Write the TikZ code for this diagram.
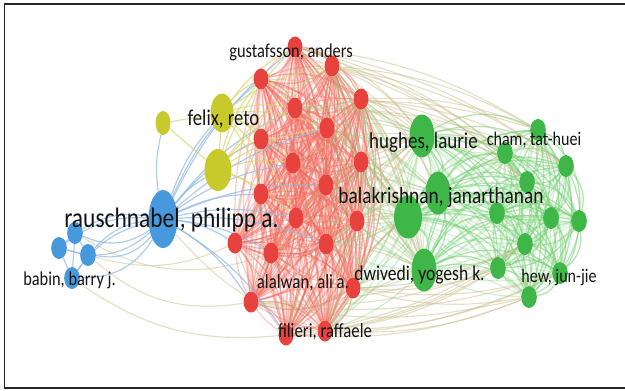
\documentclass[tikz,border=0pt]{standalone}
\usepackage{fontspec}
\newfontfamily\vosfont{Carlito}
\usepackage{xcolor}
\usepackage{tikz}
\usetikzlibrary{shapes,arrows}
\usetikzlibrary{positioning}
\usetikzlibrary{backgrounds}
\definecolor{vosred}{RGB}{232,66,62}
\definecolor{vosgreen}{RGB}{62,182,72}
\definecolor{vosblue}{RGB}{72,152,222}
\definecolor{vosyellow}{RGB}{200,202,44}
\definecolor{linkred}{RGB}{242,108,96}
\definecolor{linkgreen}{RGB}{120,208,120}
\definecolor{linkblue}{RGB}{146,186,230}
\definecolor{linkyellow}{RGB}{212,212,110}
\definecolor{linktan}{RGB}{196,186,132}
\tikzstyle{item} = [ellipse, inner sep=0pt, draw=none]
\tikzstyle{rednode} = [item, fill=vosred, minimum width=0.45cm, minimum height=0.63cm]
\tikzstyle{greennode} = [item, fill=vosgreen, minimum width=0.47cm, minimum height=0.66cm]
\tikzstyle{greenbig} = [item, fill=vosgreen, minimum width=0.75cm, minimum height=1.29cm]
\tikzstyle{bluenode} = [item, fill=vosblue, minimum width=0.47cm, minimum height=0.66cm]
\tikzstyle{bluebig} = [item, fill=vosblue, minimum width=0.87cm, minimum height=1.74cm]
\tikzstyle{yellownode} = [item, fill=vosyellow]
\tikzstyle{redlink} = [draw=linkred, line width=1.1pt, opacity=0.5]
\tikzstyle{greenlink} = [draw=linkgreen, line width=1.1pt, opacity=0.55]
\tikzstyle{bluelink} = [draw=linkblue, line width=1pt, opacity=0.75]
\tikzstyle{yellowlink} = [draw=linkyellow, line width=1pt, opacity=0.7]
\tikzstyle{tanlink} = [draw=linktan, line width=1pt, opacity=0.45]

\begin{document}
\begin{tikzpicture}[x=0.03cm, y=-0.03cm,
  lbl/.style={anchor=base, inner sep=0pt, text=black!92, yscale=1.2}]
  \useasboundingbox (0,0) rectangle (625,390);
  \draw [line width=1.6pt, black!85] (625,4) -- (4.5,4) -- (4.5,388) -- (625,388);
  %% red cluster
  \node [rednode] (r1) at (295,47) {};
  \node [rednode] (r2) at (332,66) {};
  \node [rednode] (r3) at (261,79) {};
  \node [rednode] (r4) at (361,99) {};
  \node [rednode] (r5) at (295,108) {};
  \node [rednode] (r6) at (327,128) {};
  \node [rednode] (r7) at (261,139) {};
  \node [rednode] (r8) at (361,162) {};
  \node [rednode] (r9) at (293,163) {};
  \node [rednode] (r10) at (326,185) {};
  \node [rednode] (r11) at (261,194) {};
  \node [rednode] (r12) at (357,221) {};
  \node [rednode] (r13) at (296,218) {};
  \node [rednode] (r14) at (326,244) {};
  \node [rednode] (r15) at (235,243) {};
  \node [rednode] (r16) at (271,253) {};
  \node [rednode] (r17) at (353,288) {};
  \node [rednode] (r18) at (251,302) {};
  \node [rednode] (r19) at (286,335) {};
  \node [rednode] (r20) at (325,331) {};
  %% green cluster
  \node [greenbig] (g1) at (422,136) {};
  \node [greenbig] (g2) at (438,193) {};
  \node [greenbig, minimum width=0.84cm] (g3) at (408,217) {};
  \node [greenbig] (g4) at (424,270) {};
  \node [greennode] (g5) at (505,153) {};
  \node [greennode] (g6) at (538,130) {};
  \node [greennode] (g7) at (566,166) {};
  \node [greennode] (g8) at (527,182) {};
  \node [greennode] (g9) at (497,213) {};
  \node [greennode] (g10) at (551,218) {};
  \node [greennode] (g11) at (579,221) {};
  \node [greennode] (g12) at (525,244) {};
  \node [greennode] (g13) at (498,268) {};
  \node [greennode] (g14) at (560,273) {};
  \node [greennode] (g15) at (529,297) {};
  %% blue cluster
  \node [bluebig] (b0) at (163,219) {};
  \node [bluenode] (b1) at (75,233) {};
  \node [bluenode] (b2) at (59,248) {};
  \node [bluenode] (b3) at (88,255) {};
  \node [bluenode] (b4) at (72,278) {};
  %% yellow cluster
  \node [yellownode, minimum width=0.45cm, minimum height=0.72cm] (y1) at (163,123) {};
  \node [yellownode, minimum width=0.69cm, minimum height=1.17cm] (y2) at (222,113) {};
  \node [yellownode, minimum width=0.81cm, minimum height=1.26cm] (y3) at (218,170) {};

  %% Links
  \begin{scope}[on background layer]
  \foreach \i in {1,...,19}{
    \pgfmathtruncatemacro\k{\i+1}
    \foreach \j in {\k,...,20}{
      \path [redlink] (r\i) to [bend left=24] (r\j);
      \path [redlink, opacity=0.35] (r\i) to [bend right=10] (r\j);
    }
  }
  \foreach \i in {1,...,14}{
    \pgfmathtruncatemacro\k{\i+1}
    \foreach \j in {\k,...,15}{
      \path [greenlink] (g\i) to [bend left=28] (g\j);
      \path [greenlink, opacity=0.3] (g\i) to [bend right=12] (g\j);
    }
  }
  \foreach \i in {2,4,6,8,10,12,14,17,20}
    \foreach \j in {1,2,3,4}{
      \path [tanlink] (r\i) to [bend left=15] (g\j);
      \path [greenlink, opacity=0.35] (g\j) to [bend left=12] (r\i);
    }
  \foreach \i in {1,3,5,9,13,16,19}
    \foreach \j in {1,3,4}
      \path [tanlink] (r\i) to [bend left=18] (g\j);
  \foreach \i in {1,2,4,5}
    \foreach \j in {5,6,7,8}
      \path [tanlink] (r\i) to [bend left=12] (g\j);
  \foreach \i in {17,19,20,18}
    \foreach \j in {13,14,15,12}
      \path [tanlink] (g\j) to [bend left=12] (r\i);
  %% blue links
  \foreach \j in {1,...,4}{
    \path [bluelink] (b0) to [bend left=30] (b\j);
    \path [bluelink] (b0) to [bend right=20] (b\j);
  }
  \foreach \i/\j in {1/2,1/3,2/3,2/4,3/4,1/4}
    \path [bluelink] (b\i) to (b\j);
  \foreach \j in {1,3,5,7,9,11,13,15,16,18,19,6,10,14}
    \path [bluelink] (b0) to [bend left=12] (r\j);
  \foreach \j in {1,2,3}
    \path [bluelink] (b0) to [bend left=10] (y\j);
  \path [tanlink] (b3) to [bend right=25] (r18);
  \path [tanlink] (b4) to [bend right=20] (r19);
  \path [tanlink] (b3) to [bend right=20] (r15);
  \path [tanlink] (b1) to [bend right=25] (r16);
  \path [tanlink] (b0) to [bend right=15] (r20);
  %% yellow links
  \path [yellowlink] (y1) to (y2);
  \path [yellowlink] (y1) to (y3);
  \path [yellowlink] (y2) to (y3);
  \foreach \j in {1,2,3,5,6,7,9,11,13}{
    \path [yellowlink] (y2) to [bend left=12] (r\j);
    \path [yellowlink] (y3) to [bend left=12] (r\j);
  }
  \end{scope}

  %% Labels
  \node [lbl, font=\vosfont\fontsize{20}{22}\selectfont] (rauschLbl) at (171.5,227) {rauschnabel, philipp a.};
  \node [lbl, font=\vosfont\fontsize{16}{18}\selectfont] (felixLbl) at (223.5,125) {felix, reto};
  \node [lbl, font=\vosfont\fontsize{14}{16}\selectfont] (gustafLbl) at (291,57) {gustafsson, anders};
  \node [lbl, font=\vosfont\fontsize{16.2}{18}\selectfont] (hughesLbl) at (423.5,148) {hughes, laurie};
  \node [lbl, font=\vosfont\fontsize{13.7}{16}\selectfont] (chamLbl) at (534,145) {cham, tat-huei};
  \node [lbl, font=\vosfont\fontsize{16.5}{18}\selectfont] (balaLbl) at (441,203) {balakrishnan, janarthanan};
  \node [lbl, font=\vosfont\fontsize{15}{17}\selectfont] (dwivediLbl) at (419.5,280) {dwivedi, yogesh k.};
  \node [lbl, font=\vosfont\fontsize{13.7}{16}\selectfont] (hewLbl) at (559,282) {hew, jun-jie};
  \node [lbl, font=\vosfont\fontsize{14.3}{16}\selectfont] (alalwanLbl) at (303,288) {alalwan, ali a.};
  \node [lbl, font=\vosfont\fontsize{14.3}{16}\selectfont] (filieriLbl) at (325,337) {filieri, raffaele};
  \node [lbl, font=\vosfont\fontsize{14}{16}\selectfont] (babinLbl) at (69.5,285) {babin, barry j.};
\end{tikzpicture}
\end{document}
